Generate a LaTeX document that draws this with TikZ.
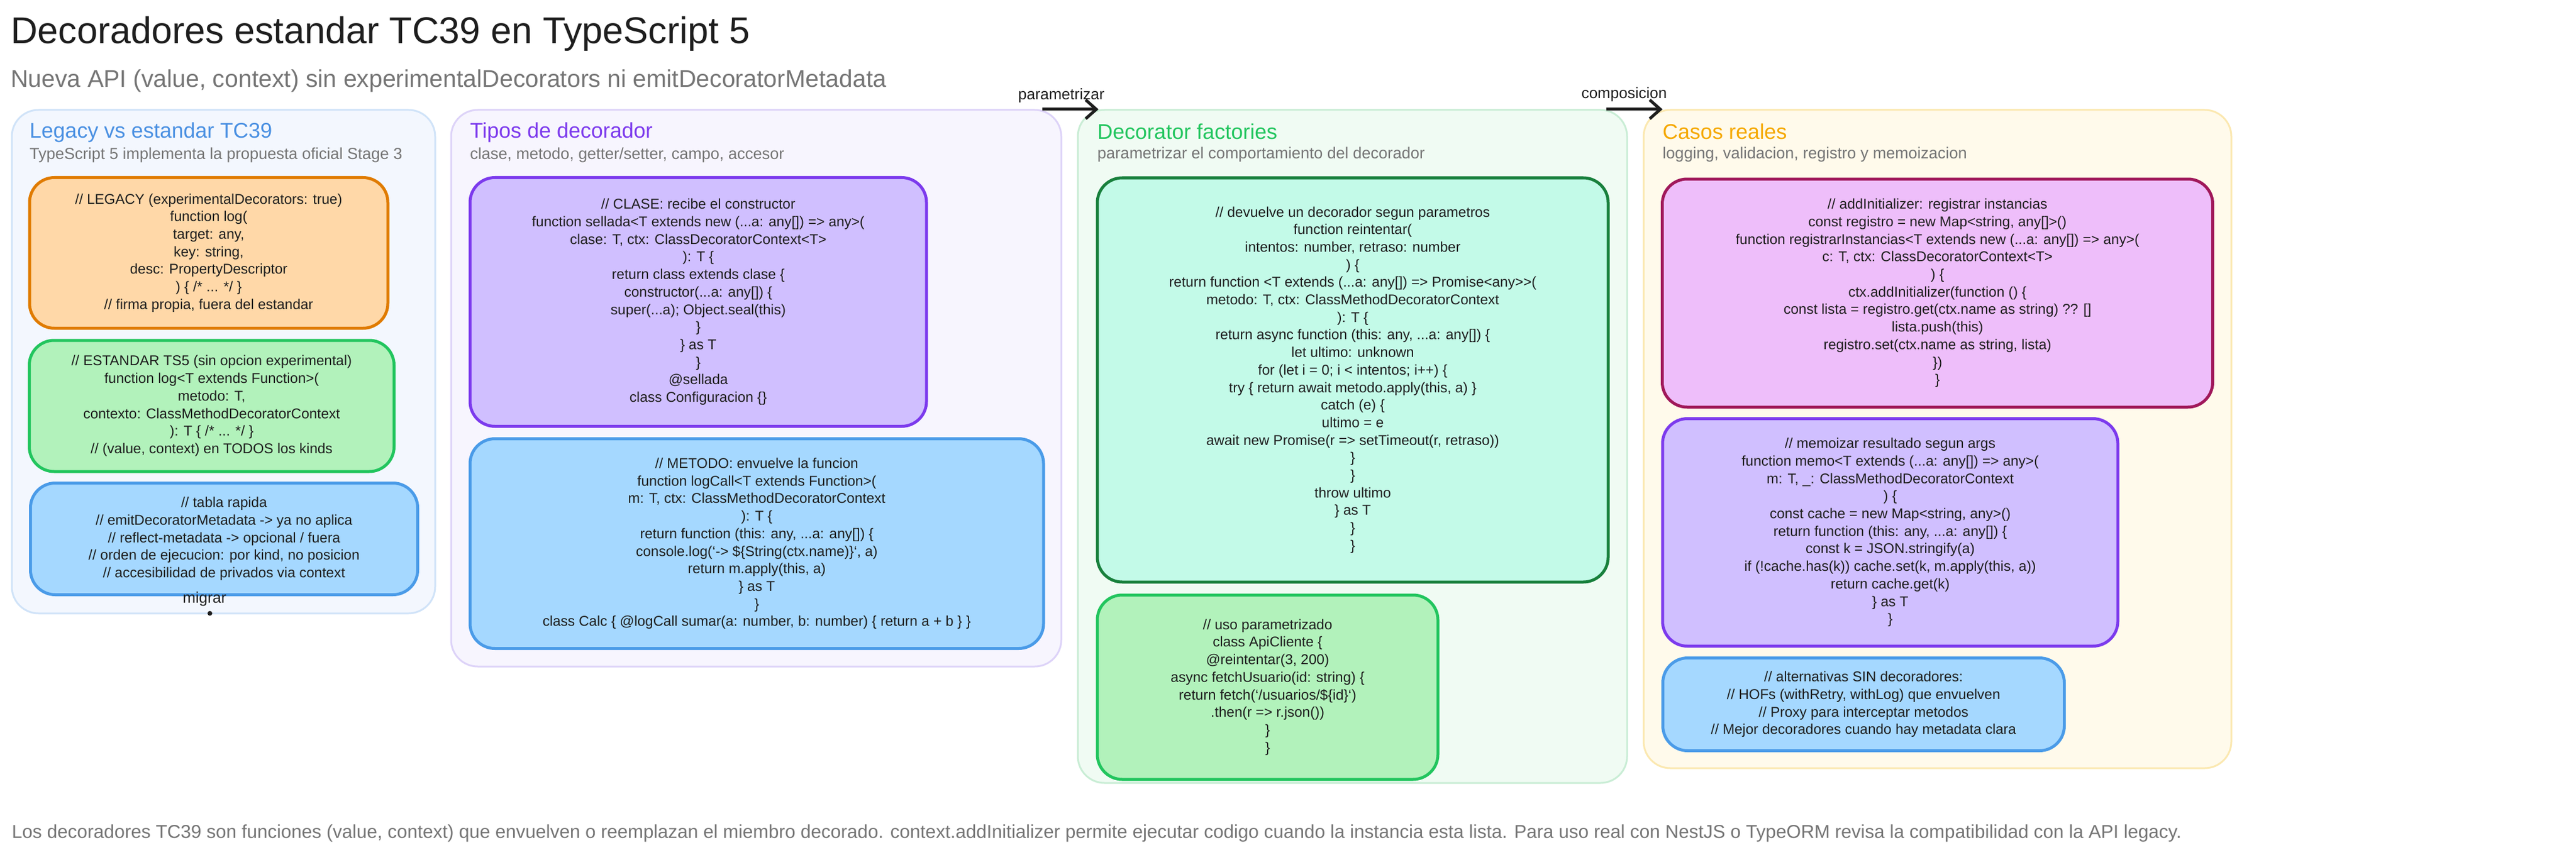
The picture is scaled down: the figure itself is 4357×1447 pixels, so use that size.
\documentclass[tikz,border=0pt]{standalone}
\usepackage{fontspec}
\setmainfont{Liberation Sans}
\usetikzlibrary{arrows.meta}
\newcommand\bq{\symbol{96}}
\definecolor{ink}{HTML}{1E1E1E}
\definecolor{gr}{HTML}{757575}
\definecolor{c1f}{HTML}{F3F7FE}\definecolor{c1d}{HTML}{D0E3F8}
\definecolor{c2f}{HTML}{F7F5FE}\definecolor{c2d}{HTML}{DDD3F8}
\definecolor{c3f}{HTML}{F0FBF3}\definecolor{c3d}{HTML}{C9EDD5}
\definecolor{c4f}{HTML}{FFFAEB}\definecolor{c4d}{HTML}{FBE8B0}
\definecolor{tblue}{HTML}{4A90E2}\definecolor{tpurp}{HTML}{7C3AED}
\definecolor{tgreen}{HTML}{22C55E}\definecolor{tyell}{HTML}{F5A800}
\definecolor{orf}{HTML}{FFD8A8}\definecolor{ord}{HTML}{E07B00}
\definecolor{grf}{HTML}{B2F2BB}\definecolor{grd}{HTML}{22C55E}
\definecolor{blf}{HTML}{A5D8FF}\definecolor{bld}{HTML}{4A9BE8}
\definecolor{puf}{HTML}{D0BFFF}\definecolor{pud}{HTML}{7C3AED}
\definecolor{tef}{HTML}{C3FAE8}\definecolor{ted}{HTML}{18803C}
\definecolor{pif}{HTML}{EEBEFA}\definecolor{pid}{HTML}{A0185A}
\begin{document}
\begin{tikzpicture}[x=1pt,y=-1pt,
  col/.style={rounded corners=45, line width=3},
  box/.style={rounded corners=42, line width=5, align=center, inner sep=0,
     font=\fontsize{24}{29.7}\selectfont, text=ink},
  ctitle/.style={anchor=west, font=\fontsize{36}{40}\selectfont, inner sep=0},
  csub/.style={anchor=west, font=\fontsize{27}{30}\selectfont, text=gr, inner sep=0},
  lbl/.style={font=\fontsize{26}{28}\selectfont, text=ink, inner sep=0},
  arr/.style={line width=5, draw=ink, -{Straight Barb[length=18, width=32, line width=5]}}]
\useasboundingbox (0,0) rectangle (4357,1447);
\fill[white] (0,0) rectangle (4357,1447);
% titles
\node[anchor=west, inner sep=0, font=\fontsize{63}{70}\selectfont, text=ink] (title) at (18,57) {Decoradores estandar TC39 en TypeScript 5};
\node[anchor=west, inner sep=0, font=\fontsize{41}{46}\selectfont, text=gr] (sub) at (18,137) {Nueva API (value, context) sin experimentalDecorators ni emitDecoratorMetadata};
% columns
\draw[col, fill=c1f, draw=c1d] (20,186) rectangle (736,1038);
\draw[col, fill=c2f, draw=c2d] (763,186) rectangle (1795,1128);
\draw[col, fill=c3f, draw=c3d] (1823,186) rectangle (2752,1325);
\draw[col, fill=c4f, draw=c4d] (2780,186) rectangle (3774,1300);
\node[ctitle, text=tblue] (t1) at (50,224) {Legacy vs estandar TC39};
\node[csub] (s1) at (50,263) {TypeScript 5 implementa la propuesta oficial Stage 3};
\node[ctitle, text=tpurp] (t2) at (795,224) {Tipos de decorador};
\node[csub] (s2) at (795,263) {clase, metodo, getter/setter, campo, accesor};
\node[ctitle, text=tgreen] (t3) at (1856,223) {Decorator factories};
\node[csub] (s3) at (1856,262) {parametrizar el comportamiento del decorador};
\node[ctitle, text=tyell] (t4) at (2812,223) {Casos reales};
\node[csub] (s4) at (2812,262) {logging, validacion, registro y memoizacion};
% legacy boxes
\node[box, fill=orf, draw=ord, minimum width=606, minimum height=255] (leg) at (353,428) {%
// LEGACY (experimentalDecorators: true)\\ function log(\\ target: any,\\ key: string,\\ desc: PropertyDescriptor\\ ) \{ /* ... */ \}\\ // firma propia, fuera del estandar};
\node[box, fill=grf, draw=grd, minimum width=617, minimum height=222] (std) at (358,687) {%
// ESTANDAR TS5 (sin opcion experimental)\\ function log<T extends Function>(\\ metodo: T,\\ contexto: ClassMethodDecoratorContext\\ ): T \{ /* ... */ \}\\ // (value, context) en TODOS los kinds};
\node[box, fill=blf, draw=bld, minimum width=655, minimum height=189] (tab) at (379,912) {%
// tabla rapida\\ // emitDecoratorMetadata -> ya no aplica\\ // reflect-metadata -> opcional / fuera\\ // orden de ejecucion: por kind, no posicion\\ // accesibilidad de privados via context};
\coordinate (mig) at (355,1038);
\node[lbl] (miglbl) at (346,1014) {migrar};
\fill[ink] (mig) circle (4);
% tipos
\node[box, fill=puf, draw=pud, minimum width=772, minimum height=421] (clase) at (1181,511) {%
// CLASE: recibe el constructor\\ function sellada<T extends new (...a: any[]) => any>(\\ clase: T, ctx: ClassDecoratorContext<T>\\ ): T \{\\ return class extends clase \{\\ constructor(...a: any[]) \{\\ super(...a); Object.seal(this)\\ \}\\ \} as T\\ \}\\ @sellada\\ class Configuracion \{\}};
\node[box, fill=blf, draw=bld, minimum width=970, minimum height=355] (metodo) at (1280,920) {%
// METODO: envuelve la funcion\\ function logCall<T extends Function>(\\ m: T, ctx: ClassMethodDecoratorContext\\ ): T \{\\ return function (this: any, ...a: any[]) \{\\ console.log(\bq-> \$\{String(ctx.name)\}\bq, a)\\ return m.apply(this, a)\\ \} as T\\ \}\\ class Calc \{ @logCall sumar(a: number, b: number) \{ return a + b \} \}};
% factories
\node[box, fill=tef, draw=ted, minimum width=864, minimum height=684] (reint) at (2288,643) {%
// devuelve un decorador segun parametros\\ function reintentar(\\ intentos: number, retraso: number\\ ) \{\\ return function <T extends (...a: any[]) => Promise<any>\kern0pt>(\\ metodo: T, ctx: ClassMethodDecoratorContext\\ ): T \{\\ return async function (this: any, ...a: any[]) \{\\ let ultimo: unknown\\ for (let i = 0; i < intentos; i++) \{\\ try \{ return await metodo.apply(this, a) \}\\ catch (e) \{\\ ultimo = e\\ await new Promise(r => setTimeout(r, retraso))\\ \}\\ \}\\ throw ultimo\\ \} as T\\ \}\\ \}};
\node[box, fill=grf, draw=grd, minimum width=576, minimum height=312] (uso) at (2144,1163) {%
// uso parametrizado\\ class ApiCliente \{\\ @reintentar(3, 200)\\ async fetchUsuario(id: string) \{\\ return fetch(\bq/usuarios/\$\{id\}\bq)\\ .then(r => r.json())\\ \}\\ \}};
% casos
\node[box, fill=pif, draw=pid, minimum width=931, minimum height=386] (reg) at (3277,496) {%
// addInitializer: registrar instancias\\ const registro = new Map<string, any[]>()\\ function registrarInstancias<T extends new (...a: any[]) => any>(\\ c: T, ctx: ClassDecoratorContext<T>\\ ) \{\\ ctx.addInitializer(function () \{\\ const lista = registro.get(ctx.name as string) ?? []\\ lista.push(this)\\ registro.set(ctx.name as string, lista)\\ \})\\ \}};
\node[box, fill=puf, draw=pud, minimum width=770, minimum height=385] (memo) at (3197,901) {%
// memoizar resultado segun args\\ function memo<T extends (...a: any[]) => any>(\\ m: T, \_: ClassMethodDecoratorContext\\ ) \{\\ const cache = new Map<string, any>()\\ return function (this: any, ...a: any[]) \{\\ const k = JSON.stringify(a)\\ if (!cache.has(k)) cache.set(k, m.apply(this, a))\\ return cache.get(k)\\ \} as T\\ \}};
\node[box, fill=blf, draw=bld, minimum width=679, minimum height=157] (alt) at (3152,1192) {%
// alternativas SIN decoradores:\\ // HOFs (withRetry, withLog) que envuelven\\ // Proxy para interceptar metodos\\ // Mejor decoradores cuando hay metadata clara};
% arrows
\coordinate (a1s) at (1763,185);
\coordinate (a1e) at (1858,185);
\coordinate (a2s) at (2717,185);
\coordinate (a2e) at (2812,185);
\draw[arr] (a1s) -- (a1e);
\draw[arr] (a2s) -- (a2e);
\node[lbl] (l1) at (1795,162) {parametrizar};
\node[lbl] (l2) at (2747,160) {composicion};
% footnote
\node[anchor=west, inner sep=0, font=\fontsize{31.5}{36}\selectfont, text=gr] (foot) at (20,1410) {Los decoradores TC39 son funciones (value, context) que envuelven o reemplazan el miembro decorado. context.addInitializer permite ejecutar codigo cuando la instancia esta lista. Para uso real con NestJS o TypeORM revisa la compatibilidad con la API legacy.};
\end{tikzpicture}
\end{document}
